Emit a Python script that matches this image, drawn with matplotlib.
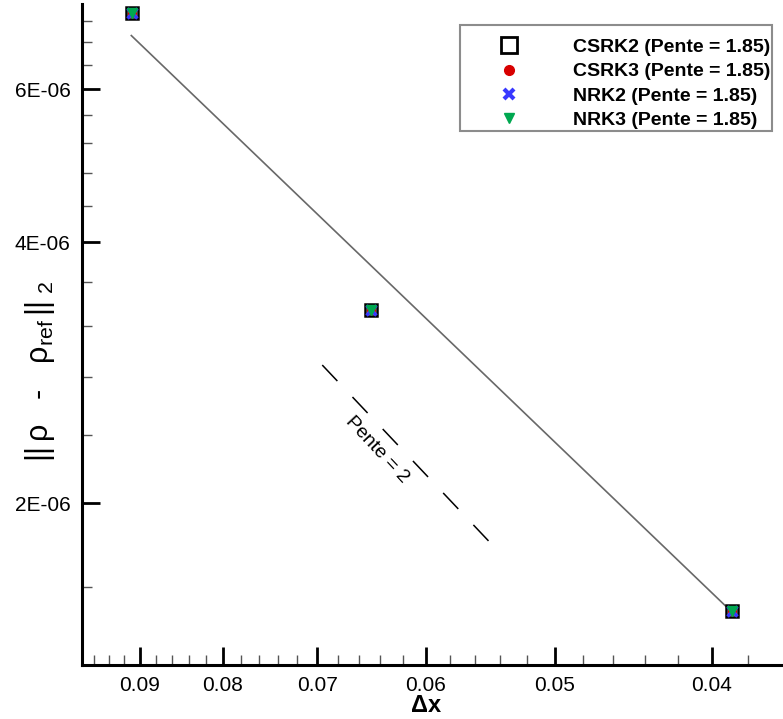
import numpy as np
import matplotlib
matplotlib.use('Agg')
import matplotlib.pyplot as plt
import matplotlib.ticker as ticker
from matplotlib.lines import Line2D

plt.rcParams['font.family'] = ['Liberation Sans', 'DejaVu Sans']
plt.rcParams['mathtext.fontset'] = 'custom'
plt.rcParams['mathtext.rm'] = 'Liberation Sans'
plt.rcParams['mathtext.it'] = 'Liberation Sans:italic'
plt.rcParams['mathtext.bf'] = 'Liberation Sans:bold'
plt.rcParams['mathtext.default'] = 'regular'

## DATA ########################################################################
dx = [0.0910, 0.0649, 0.0389]
err_csrk2 = [7.35e-6, 3.34e-6, 1.504e-6]
err_csrk3 = [7.35e-6, 3.34e-6, 1.504e-6]
err_nrk2 = [7.35e-6, 3.34e-6, 1.504e-6]
err_nrk3 = [7.35e-6, 3.34e-6, 1.504e-6]
labels = ['CSRK2 (Pente = 1.85)', 'CSRK3 (Pente = 1.85)',
          'NRK2 (Pente = 1.85)', 'NRK3 (Pente = 1.85)']

# fitted line, end points
fit_x = [0.0911, 0.0389]
fit_y = [6.92e-6, 1.50e-6]

# reference slope-2 segment
ref_x = [0.0695, 0.0549]
ref_y = [2.887e-6, 1.81e-6]

x_major = [0.09, 0.08, 0.07, 0.06, 0.05, 0.04]
y_major = [2e-6, 4e-6, 6e-6]

## PLOT ########################################################################
fig = plt.figure(figsize=(7.83, 7.19), dpi=100)
ax = fig.add_axes([0.1047, 0.0751, 0.8953, 0.9193])
ax.set_xscale('log')
ax.set_yscale('log')

ax.plot(fit_x, fit_y, color='#686868', lw=1.2, zorder=2)

ax.plot(ref_x, ref_y, color='black', lw=1.1, linestyle=(0, (14.4, 14.4)), zorder=2)
ax.text(0.06433, 2.304e-6, 'Pente = 2', rotation=-47, rotation_mode='anchor',
        ha='center', va='center', fontsize=14)

ax.plot(dx, err_csrk2, ls='none', marker='s', ms=9, mfc='none', mec='black', mew=1.8, zorder=3)
ax.plot(dx, err_csrk3, ls='none', marker='o', ms=5.5, mfc='#d80000', mec='#d80000', zorder=4)
ax.plot(dx, err_nrk2, ls='none', marker='x', ms=6.5, mec='#3838ff', mew=2.5, zorder=5)
ax.plot(dx, err_nrk3, ls='none', marker='v', ms=6.5, mfc='#00a850', mec='#00a850', zorder=6)

handles = [
    Line2D([], [], ls='none', marker='s', ms=11, mfc='none', mec='black', mew=2),
    Line2D([], [], ls='none', marker='o', ms=7, mfc='#d80000', mec='#d80000'),
    Line2D([], [], ls='none', marker='x', ms=7, mec='#3838ff', mew=3),
    Line2D([], [], ls='none', marker='v', ms=6.5, mfc='#00a850', mec='#00a850'),
]
leg = ax.legend(handles, labels, loc='upper right', bbox_to_anchor=(772/783, 1 - 25/719),
                bbox_transform=fig.transFigure, prop={'weight': 'bold', 'size': 14},
                frameon=True, fancybox=False, handlelength=4.74, handletextpad=0.93,
                borderpad=0.1, labelspacing=0.34, borderaxespad=0,
                title=' ', title_fontsize=4)
leg.get_frame().set_edgecolor('#707070')
leg.get_frame().set_linewidth(1.5)

ax.set_xlim(0.0977, 0.03617)
ax.set_ylim(1.3026e-6, 7.524e-6)

ax.xaxis.set_major_locator(ticker.FixedLocator(x_major))
ax.xaxis.set_major_formatter(ticker.FixedFormatter(['%.2f' % v for v in x_major]))
xminor = [v / 1000 for v in range(36, 100, 2) if v % 10 != 0]
ax.xaxis.set_minor_locator(ticker.FixedLocator(xminor))
ax.xaxis.set_minor_formatter(ticker.NullFormatter())

ax.yaxis.set_major_locator(ticker.FixedLocator(y_major))
ax.yaxis.set_major_formatter(ticker.FuncFormatter(lambda v, pos: '%.0E' % v))
yminor = [v * 0.4e-6 for v in range(3, 20) if v % 5 != 0]
ax.yaxis.set_minor_locator(ticker.FixedLocator(yminor))
ax.yaxis.set_minor_formatter(ticker.NullFormatter())

ax.tick_params(which='major', direction='in', length=13, width=2, labelsize=15, pad=8)
ax.tick_params(which='minor', direction='in', length=7, width=1, color='#555555')

for side in ['top', 'right']:
    ax.spines[side].set_visible(False)
for side in ['left', 'bottom']:
    ax.spines[side].set_linewidth(2.2)

fig.text(426/783, 1 - 706/719, 'Δx', ha='center', va='center',
         fontsize=17, fontweight='bold')
fig.text(40/783, 1 - 372/719, r'$||\,\rho\ \ \ \text{-}\ \ \ \rho_{ref}\,||_{\ 2}$',
         rotation=90, ha='center', va='center', fontsize=22)

fig.savefig('out.png', dpi=100)
